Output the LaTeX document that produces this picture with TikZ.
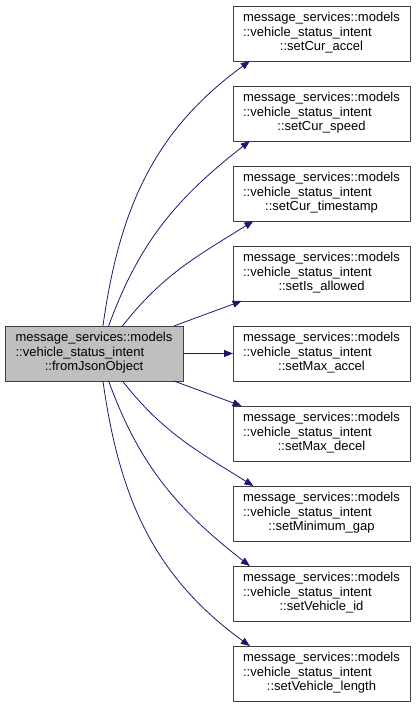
\documentclass[tikz,border=0pt]{standalone}
\usepackage{fontspec}
\setmainfont{Liberation Sans}
\usetikzlibrary{arrows.meta, positioning}
\definecolor{callblue}{RGB}{25,25,112}
\definecolor{boxgray}{RGB}{191,191,191}
\tikzset{
  fn/.style={rectangle, draw=black!75, fill=white, line width=0.9pt,
    minimum width=177pt, minimum height=55pt, inner sep=3pt, outer sep=0pt,
    font=\fontsize{13}{14.5}\selectfont},
  fnsel/.style={fn, fill=boxgray, minimum width=178pt},
  call/.style={-{Triangle[length=9pt,width=7pt]}, draw=callblue,
    line width=0.8pt},
}
\newcommand{\fnlabel}[1]{\begin{tabular}{@{}l@{}}message\_services::models\\
  ::vehicle\_status\_intent\\\multicolumn{1}{@{}c@{}}{::#1}\end{tabular}}

\begin{document}
\begin{tikzpicture}[x=1pt, y=-1pt]
  \useasboundingbox (0,0) rectangle (416,707);

  \node[fnsel] (from) at (94,353.5) {\fnlabel{fromJsonObject}};

  \node[fn] (accel) at (321.5,33.5) {\fnlabel{setCur\_accel}};
  \node[fn, below=25pt of accel]   (speed)   {\fnlabel{setCur\_speed}};
  \node[fn, below=25pt of speed]   (stamp)   {\fnlabel{setCur\_timestamp}};
  \node[fn, below=25pt of stamp]   (allowed) {\fnlabel{setIs\_allowed}};
  \node[fn, below=25pt of allowed] (maxacc)  {\fnlabel{setMax\_accel}};
  \node[fn, below=25pt of maxacc]  (maxdec)  {\fnlabel{setMax\_decel}};
  \node[fn, below=25pt of maxdec]  (mingap)  {\fnlabel{setMinimum\_gap}};
  \node[fn, below=25pt of mingap]  (vid)     {\fnlabel{setVehicle\_id}};
  \node[fn, below=25pt of vid]     (vlen)    {\fnlabel{setVehicle\_length}};

  % calls upwards
  \draw[call] (from.72) to[out=82, in=216] (accel.201);
  \draw[call] (from.62) to[out=70, in=218] (speed.201);
  \draw[call] (from.44) to[out=52, in=212] (stamp.202);
  \draw[call] (from.19.5) -- (allowed.199);
  \draw[call] (from) -- (maxacc);
  % calls downwards
  \draw[call] (from.-19.5) -- (maxdec.161);
  \draw[call] (from.-44) to[out=-52, in=148] (mingap.158);
  \draw[call] (from.-62) to[out=-70, in=142] (vid.159);
  \draw[call] (from.-72) to[out=-82, in=144] (vlen.159);
\end{tikzpicture}
\end{document}
